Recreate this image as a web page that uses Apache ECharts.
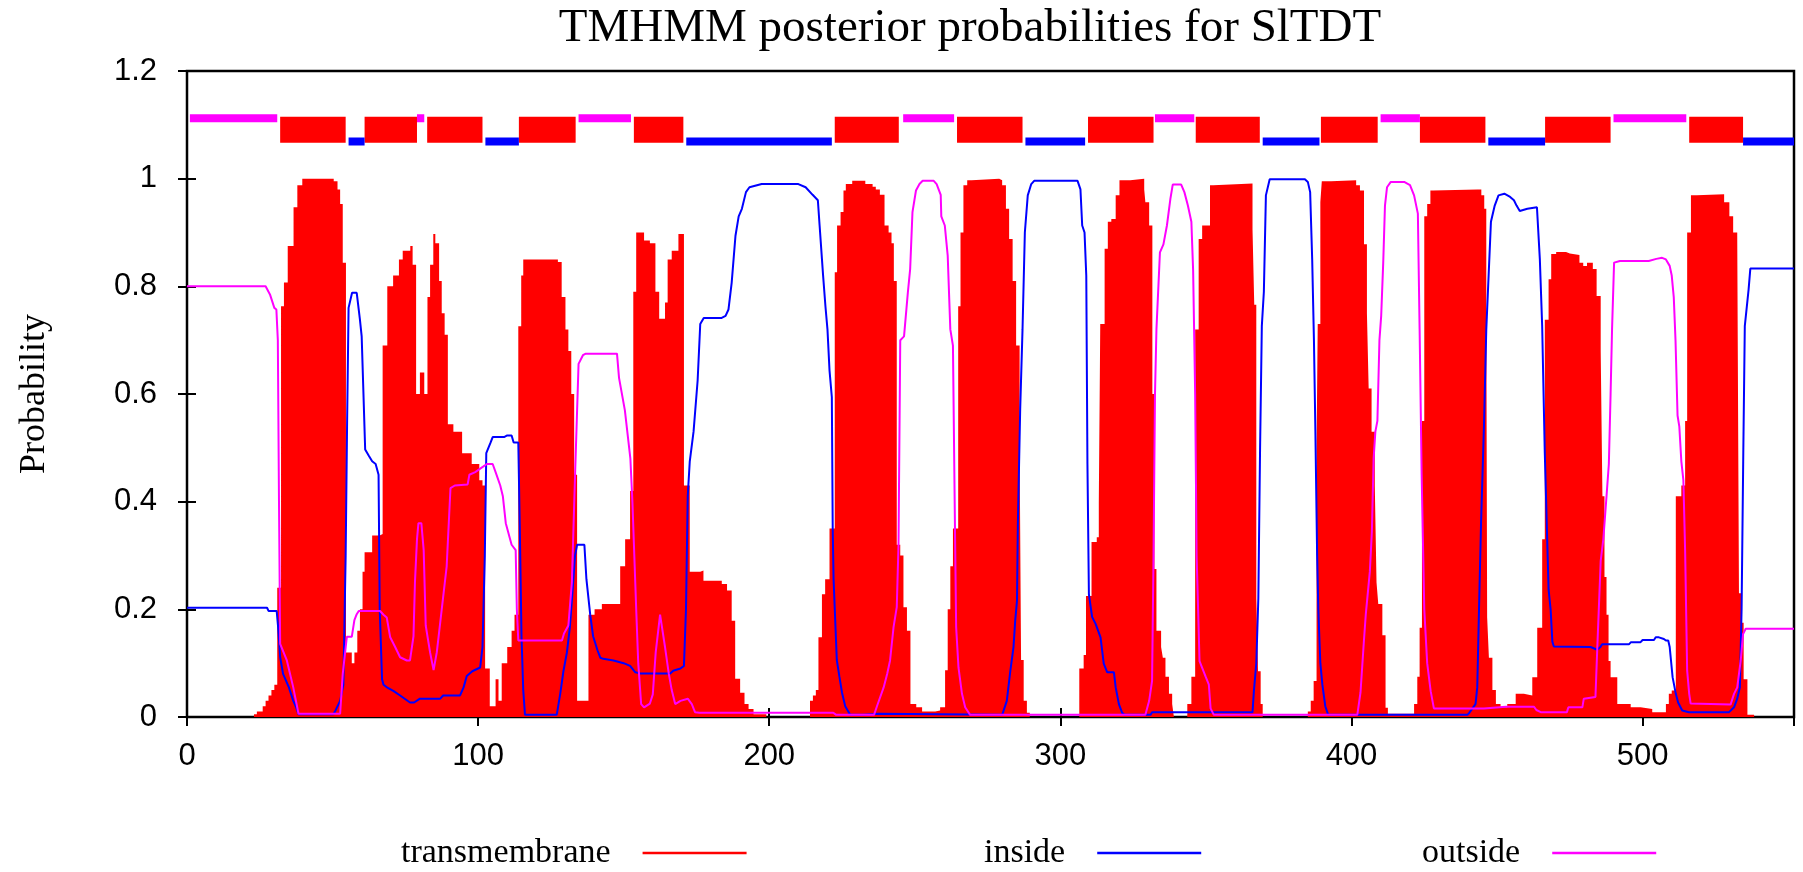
<!DOCTYPE html>
<html>
<head>
<meta charset="utf-8">
<title>TMHMM posterior probabilities for SlTDT</title>
<script src="https://cdn.jsdelivr.net/npm/echarts@6/dist/echarts.min.js"></script>
<style>
	html,body{margin:0;padding:0;background:#fff;}
	#chart{width:1803px;height:872px;}
</style>
</head>
<body>
<div id="chart"></div>
<script>
	// residue position -> probability
	var seqLength=552;

	var tmProb=[[0,0],[23,0.005],[24,0.01],[26,0.02],[27,0.03],[28,0.04],[29,0.05],[30,0.06],[31,0.24],[32.3,0.763],[33.3,0.807],[34.6,0.875],[36.6,0.947],[37.9,0.988],[39.6,1.0],[50.4,0.995],[51.7,0.98],[52.6,0.953],[53.5,0.844],[54.6,0.12],[56.6,0.1],[57.5,0.12],[58.5,0.16],[59.4,0.2],[60.3,0.27],[61,0.306],[63.6,0.337],[66.2,0.34],[67.2,0.69],[68.8,0.8],[70.8,0.82],[72.8,0.85],[74.1,0.866],[76.7,0.875],[77.5,0.84],[78.7,0.6],[80,0.64],[81.5,0.6],[82.6,0.78],[83.5,0.84],[84.6,0.897],[85.3,0.88],[86.6,0.81],[87.5,0.75],[88.5,0.71],[89.6,0.544],[91.5,0.53],[94.5,0.49],[97.8,0.47],[100.4,0.44],[101.5,0.43],[102.4,0.09],[104,0.02],[106,0.07],[107,0.03],[108.1,0.1],[110,0.13],[111.5,0.16],[112.5,0.19],[113.8,0.726],[114.8,0.82],[115.5,0.85],[127.4,0.845],[128.7,0.78],[130,0.72],[131,0.68],[132,0.6],[133,0.45],[134,0.03],[137.9,0.19],[140,0.2],[142.5,0.21],[148.8,0.28],[150.5,0.33],[152.2,0.42],[153.3,0.79],[154.3,0.9],[157,0.885],[159,0.88],[160.9,0.79],[162.2,0.74],[164.2,0.77],[165.1,0.85],[166.5,0.866],[168.8,0.897],[170.7,0.43],[172.7,0.27],[176.3,0.272],[177.4,0.253],[183.7,0.247],[185.5,0.235],[187.1,0.179],[188.3,0.071],[190,0.045],[191.5,0.024],[192.9,0.015],[194.6,0.005],[199,0],[214,0.03],[215,0.04],[216,0.05],[216.9,0.148],[218.1,0.228],[219.2,0.256],[220.7,0.35],[222.5,0.826],[223.3,0.913],[224.5,0.938],[225.5,0.978],[226.3,0.99],[228.5,0.996],[233,0.99],[235.5,0.985],[236.6,0.98],[238,0.97],[239.6,0.913],[241,0.9],[242,0.88],[242.8,0.81],[243.8,0.32],[245,0.3],[246.1,0.204],[247.3,0.16],[248.5,0.024],[250.5,0.018],[252.5,0.01],[257,0.012],[258.7,0.018],[260.4,0.087],[261.3,0.2],[262.2,0.28],[263.1,0.35],[264.9,0.763],[265.7,0.9],[266.7,0.988],[268,0.997],[269.5,1.0],[279,0.997],[280,0.988],[281.3,0.944],[282.4,0.888],[283.6,0.81],[284.8,0.69],[286,0.5],[286.5,0.106],[287.4,0.03],[288.5,0.008],[289.5,0],[306.5,0.09],[308,0.115],[308.8,0.225],[310.7,0.325],[312.5,0.334],[313.2,0.4],[313.7,0.73],[315.2,0.87],[316.3,0.92],[317.5,0.925],[319,0.969],[320.3,0.997],[324,1.0],[328.8,0.98],[329.2,0.956],[330.5,0.913],[331.6,0.6],[332.3,0.275],[333,0.16],[334.6,0.13],[335.2,0.11],[336.1,0.075],[337.3,0.043],[338.4,0.024],[339,0],[343.6,0.024],[345,0.075],[346.3,0.72],[347.5,0.888],[348.7,0.913],[350,0.913],[351.4,0.988],[352.5,0.991],[366,0.906],[366.6,0.766],[367.3,0.22],[367.9,0.085],[368.8,0.024],[369.5,0],[385,0.01],[386,0.03],[387,0.067],[388,0.5],[388.4,0.73],[389.3,0.956],[389.8,0.995],[393,0.997],[401.6,0.988],[402.9,0.978],[404.3,0.878],[405.3,0.75],[405.9,0.61],[406.9,0.53],[408,0.43],[408.6,0.25],[409.2,0.21],[410.6,0.152],[411.7,0.017],[412.5,0.006],[421.5,0.024],[422.6,0.075],[423.4,0.166],[424.2,0.55],[425,0.93],[426,0.953],[427.1,0.978],[428,0.98],[443.3,0.98],[444.6,0.969],[445.6,0.944],[446.3,0.757],[446.6,0.185],[447.2,0.11],[448.4,0.05],[449.6,0.024],[451.2,0.018],[453.5,0.024],[456.4,0.043],[459.2,0.04],[462.1,0.074],[463.8,0.166],[465.5,0.33],[466.4,0.738],[467.7,0.813],[468.6,0.86],[470.3,0.864],[473.7,0.861],[475,0.858],[478.3,0.844],[479.6,0.838],[480.9,0.844],[482.9,0.832],[484.2,0.782],[485.6,0.68],[486.2,0.41],[486.9,0.26],[487.6,0.19],[488.3,0.104],[489,0.074],[491.3,0.024],[495.9,0.018],[499.3,0.015],[503.3,0.009],[507.3,0.009],[508,0.024],[509,0.043],[510,0.049],[511.4,0.41],[513.3,0.43],[514.6,0.55],[515.3,0.9],[516.6,0.969],[518.6,0.971],[528,0.956],[529.8,0.93],[531.1,0.9],[532.5,0.894],[533.1,0.23],[533.8,0.175],[534.7,0.07],[536,0.004],[538.3,0]];

	var insideProb=[[0,0.203],[27.5,0.203],[28,0.197],[30.8,0.197],[31.3,0.167],[32,0.111],[33,0.08],[35,0.055],[36.5,0.03],[37.5,0.018],[38.3,0.005],[50.3,0.005],[51,0.012],[52.6,0.03],[53.7,0.06],[54.5,0.3],[55,0.55],[55.5,0.76],[56.7,0.788],[58.3,0.788],[59.4,0.738],[60,0.707],[60.5,0.62],[61.2,0.497],[62.5,0.485],[63.6,0.475],[64.8,0.47],[65.8,0.45],[66.2,0.2],[67,0.07],[67.5,0.06],[69,0.054],[71,0.048],[73.2,0.04],[76.6,0.027],[78,0.027],[80,0.034],[87,0.034],[88,0.04],[93.8,0.04],[95,0.055],[96.1,0.076],[98,0.085],[100.7,0.092],[101.5,0.13],[102.3,0.3],[102.8,0.49],[104.3,0.51],[105,0.52],[108.9,0.52],[110,0.523],[111.5,0.523],[112.2,0.51],[113.8,0.51],[114.3,0.356],[114.9,0.15],[115.5,0.05],[116.1,0.004],[127,0.004],[128.2,0.043],[129.3,0.085],[130.5,0.12],[131.5,0.166],[132.2,0.216],[133.3,0.3],[134,0.32],[136.5,0.32],[137.2,0.256],[138.5,0.19],[139.5,0.15],[141,0.124],[142,0.11],[143,0.108],[146.5,0.105],[150,0.1],[152.2,0.095],[154,0.083],[155.7,0.081],[166,0.081],[167,0.086],[169.5,0.09],[170.7,0.095],[171.4,0.2],[172,0.41],[172.7,0.475],[174,0.53],[175.4,0.625],[176.3,0.73],[177.5,0.741],[183.5,0.741],[185,0.745],[186,0.757],[187.1,0.807],[188.4,0.894],[189.5,0.93],[190.6,0.944],[192,0.975],[193.2,0.984],[197.4,0.99],[210,0.99],[212.5,0.984],[214.9,0.97],[216.7,0.96],[217.3,0.913],[218.5,0.82],[219.3,0.763],[220,0.72],[220.7,0.644],[221.5,0.594],[221.8,0.35],[222.1,0.256],[223.2,0.106],[224.1,0.075],[225,0.045],[226.1,0.02],[227.8,0.004],[232.4,0.004],[233,0.006],[237.5,0.006],[238,0.004],[280,0.004],[281.6,0.03],[282.8,0.085],[283.9,0.13],[284.5,0.18],[285.1,0.216],[285.4,0.36],[286.2,0.572],[287,0.72],[287.8,0.9],[288.8,0.969],[290,0.99],[291,0.996],[305.9,0.996],[306.9,0.98],[307.5,0.913],[308.3,0.9],[308.9,0.82],[309.3,0.47],[309.8,0.228],[310.9,0.186],[312.1,0.173],[313.8,0.148],[314.9,0.099],[316.1,0.083],[318.4,0.083],[319,0.055],[320.1,0.024],[321.2,0.008],[322,0.004],[331,0.004],[331.5,0.009],[366,0.009],[366.5,0.05],[367.3,0.1],[368,0.22],[368.6,0.5],[369.2,0.726],[369.9,0.79],[370.6,0.969],[371.9,0.999],[384,0.999],[385,0.994],[385.8,0.975],[386.5,0.85],[387.1,0.7],[387.6,0.53],[388.2,0.3],[388.6,0.2],[389.3,0.1],[390,0.06],[391,0.02],[392,0.004],[439.8,0.004],[440.5,0.008],[442.6,0.024],[443.2,0.055],[443.8,0.2],[444.5,0.36],[445.5,0.54],[446.3,0.72],[447.9,0.92],[449.2,0.95],[450.5,0.969],[452.5,0.972],[454.5,0.966],[455.8,0.96],[456.7,0.95],[457.8,0.94],[460.4,0.944],[463.7,0.947],[464.7,0.85],[465.5,0.726],[466.4,0.49],[467.7,0.237],[468.4,0.2],[469,0.14],[469.5,0.131],[482.1,0.13],[484.4,0.125],[485.5,0.13],[486.1,0.135],[495.3,0.135],[496,0.139],[499.3,0.139],[500,0.143],[503.9,0.143],[504.5,0.148],[505.6,0.148],[506,0.145],[507.3,0.145],[508,0.142],[508.8,0.142],[509.3,0.13],[510.3,0.074],[511.4,0.043],[512.2,0.027],[513.6,0.012],[515.9,0.009],[529.7,0.009],[531.4,0.018],[532.5,0.034],[533.4,0.055],[534,0.2],[534.6,0.5],[535.1,0.726],[536.4,0.794],[537,0.833],[552,0.833]];

	var outsideProb=[[0,0.8],[27,0.8],[28.5,0.785],[30,0.76],[30.7,0.757],[31.2,0.7],[31.6,0.4],[32,0.136],[34.3,0.105],[36.5,0.055],[38.3,0.006],[52.6,0.006],[53.5,0.08],[54.9,0.149],[56.6,0.149],[57.5,0.18],[58.3,0.191],[59,0.197],[66.3,0.197],[67.5,0.19],[68.6,0.185],[69.8,0.148],[71.5,0.13],[73.2,0.111],[75.5,0.105],[76.6,0.105],[77.8,0.15],[78.3,0.25],[79,0.33],[79.5,0.36],[80.5,0.36],[81.3,0.31],[82,0.17],[83.5,0.12],[84.7,0.087],[85.8,0.12],[87.5,0.2],[89.2,0.28],[90.5,0.425],[92,0.43],[96.4,0.432],[97,0.45],[99,0.455],[101.7,0.465],[103,0.47],[105,0.47],[106,0.455],[107.6,0.43],[108.5,0.41],[109.5,0.36],[110.5,0.34],[111.5,0.32],[112.9,0.31],[113.3,0.2],[113.8,0.142],[128.8,0.142],[129.5,0.155],[131,0.17],[132.2,0.25],[133.3,0.45],[134.5,0.656],[136,0.672],[137,0.675],[147.7,0.675],[148.4,0.63],[150.4,0.57],[152.3,0.48],[153,0.4],[154.3,0.2],[155,0.1],[156,0.024],[157,0.018],[159,0.025],[160,0.042],[161,0.12],[162.5,0.19],[163.1,0.19],[164.2,0.13],[165.5,0.08],[166.5,0.05],[167.7,0.024],[169.5,0.03],[172,0.034],[173.4,0.024],[174.5,0.009],[176,0.008],[222,0.008],[223,0.004],[236,0.004],[237,0.02],[239.3,0.055],[240.5,0.08],[241.5,0.105],[242.7,0.167],[243.8,0.204],[244.4,0.32],[245,0.7],[246.3,0.707],[247.6,0.788],[248.4,0.832],[249.2,0.938],[250.4,0.978],[251.6,0.99],[252.7,0.996],[256.5,0.996],[257.5,0.99],[258.9,0.97],[259.1,0.93],[260.3,0.913],[261.3,0.857],[262.2,0.72],[263.1,0.69],[263.8,0.35],[264.2,0.167],[265,0.092],[266.2,0.043],[267.3,0.018],[269,0.004],[329.2,0.004],[330.5,0.03],[331.5,0.067],[332,0.3],[332.5,0.6],[333,0.72],[334.2,0.863],[335.4,0.878],[336.6,0.913],[337.8,0.963],[338.6,0.989],[341.5,0.989],[342.6,0.975],[343.8,0.95],[345,0.92],[345.6,0.83],[346.3,0.6],[346.8,0.3],[347.8,0.104],[349.9,0.075],[351,0.06],[351.6,0.016],[352.7,0.004],[402,0.004],[403.1,0.046],[404.2,0.136],[404.9,0.19],[406.3,0.27],[407,0.344],[407.6,0.48],[408.2,0.53],[408.9,0.55],[409.6,0.7],[410.2,0.745],[410.9,0.844],[411.5,0.95],[412.2,0.984],[413.5,0.994],[418.1,0.994],[420.1,0.988],[421.5,0.969],[422.8,0.935],[423.4,0.72],[424.1,0.45],[425,0.2],[426,0.1],[427.2,0.048],[428.3,0.016],[445.5,0.016],[446,0.018],[453,0.019],[462.7,0.019],[463.5,0.013],[465,0.009],[474,0.009],[474.5,0.018],[479.3,0.018],[479.8,0.034],[483.8,0.037],[484.4,0.124],[485.6,0.29],[486.5,0.33],[487.6,0.41],[488.4,0.47],[489,0.6],[489.5,0.72],[490.2,0.844],[492.2,0.847],[502.1,0.847],[504.7,0.851],[506.7,0.853],[508,0.85],[509.3,0.838],[510,0.82],[510.7,0.78],[511.3,0.7],[512,0.56],[512.6,0.54],[513.3,0.475],[514,0.44],[514.6,0.31],[515.3,0.086],[516,0.043],[516.5,0.025],[530.2,0.023],[531.4,0.043],[532.5,0.055],[533.7,0.105],[534.5,0.154],[535.4,0.164],[552,0.164]];

	// predicted topology shown above the curves: [from, to]
	var tmSegments=[[32,54.5],[61,79],[82.5,101.5],[114,133.5],[153.5,170.5],[222.5,244.5],[264.5,287],[309.5,332],[346.5,368.5],[389.5,409],[423.5,446],[466.5,489],[516,534.5]];
	var insideSegments=[[55.5,61],[102.5,114],[171.5,221.5],[288,308.5],[369.5,389],[447,466.5],[534.5,552]];
	var outsideSegments=[[1,31],[79,81.5],[134.5,152.5],[246,263.5],[332.5,346],[410,423.5],[490,515]];
	var tmLevel=1.091, insideLevel=1.069, outsideLevel=1.112;

	var seriesNames=["transmembrane","inside","outside"];

	function segLine(segs,level){
		var arr=[];
		for(var i=0;i<segs.length;i++){
			arr.push([segs[i][0],level]);
			arr.push([segs[i][1],level]);
			arr.push([segs[i][1],'-']);
		}
		return arr;
	}

	var serif="Liberation Serif";
	var sans="Liberation Sans";

	function axisX(pos,showLabel){
		return {
			type:'value',position:pos,min:0,max:seqLength,interval:100,
			axisLine:{show:false},
			axisTick:{show:true,inside:true,length:9,lineStyle:{color:'#000',width:2}},
			axisLabel:{show:showLabel,showMaxLabel:false,color:'#000',fontFamily:sans,fontSize:31,margin:24},
			splitLine:{show:false}
		};
	}
	function axisY(pos,showLabel){
		return {
			type:'value',position:pos,min:0,max:1.2,interval:0.2,
			axisLine:{show:false},
			axisTick:{show:true,inside:true,length:9,lineStyle:{color:'#000',width:2}},
			axisLabel:{show:showLabel,color:'#000',fontFamily:sans,fontSize:31,margin:30},
			splitLine:{show:false}
		};
	}

	// key: text first, then a line sample (gnuplot style)
	function legendAt(name,left){
		return {
			data:[name],left:left,top:831,align:'right',icon:'rect',
			itemWidth:104,itemHeight:2.5,selectedMode:false,
			textStyle:{fontFamily:serif,fontSize:34,color:'#000',padding:[0,27,0,0]}
		};
	}

	var chart=echarts.init(document.getElementById("chart"));
	var yLeft=axisY('left',true);
	yLeft.name="Probability";
	yLeft.nameLocation='middle';
	yLeft.nameGap=134;
	yLeft.nameTextStyle={fontFamily:serif,fontSize:36,color:'#000'};

	var option={
		animation:false,
		backgroundColor:'#fff',
		title:{
			text:"TMHMM posterior probabilities for SlTDT",
			left:965,top:0,textAlign:'center',
			textStyle:{fontFamily:serif,fontSize:47,fontWeight:'normal',color:'#000'}
		},
		legend:[
			legendAt(seriesNames[0],396),
			legendAt(seriesNames[1],979),
			legendAt(seriesNames[2],1417)
		],
		grid:{left:187,right:9,top:71,bottom:155,show:true,borderColor:'#000',borderWidth:2.5,backgroundColor:'transparent'},
		xAxis:[axisX('bottom',true),axisX('top',false)],
		yAxis:[yLeft,axisY('right',false)],
		series:[
			{
				name:seriesNames[0],type:'line',step:'end',data:tmProb,
				color:'#ff0000',symbol:'none',
				lineStyle:{width:0},areaStyle:{color:'#ff0000',opacity:1}
			},
			{
				name:seriesNames[1],type:'line',data:insideProb,
				color:'#0000ff',symbol:'none',lineStyle:{width:2,color:'#0000ff'}
			},
			{
				name:seriesNames[2],type:'line',data:outsideProb,
				color:'#ff00ff',symbol:'none',lineStyle:{width:2,color:'#ff00ff'}
			},
			{
				type:'line',data:segLine(tmSegments,tmLevel),symbol:'none',
				lineStyle:{width:26,color:'#ff0000',cap:'butt'}
			},
			{
				type:'line',data:segLine(insideSegments,insideLevel),symbol:'none',
				lineStyle:{width:8,color:'#0000ff',cap:'butt'}
			},
			{
				type:'line',data:segLine(outsideSegments,outsideLevel),symbol:'none',
				lineStyle:{width:8,color:'#ff00ff',cap:'butt'}
			}
		]
	};
	chart.setOption(option);
</script>
</body>
</html>
